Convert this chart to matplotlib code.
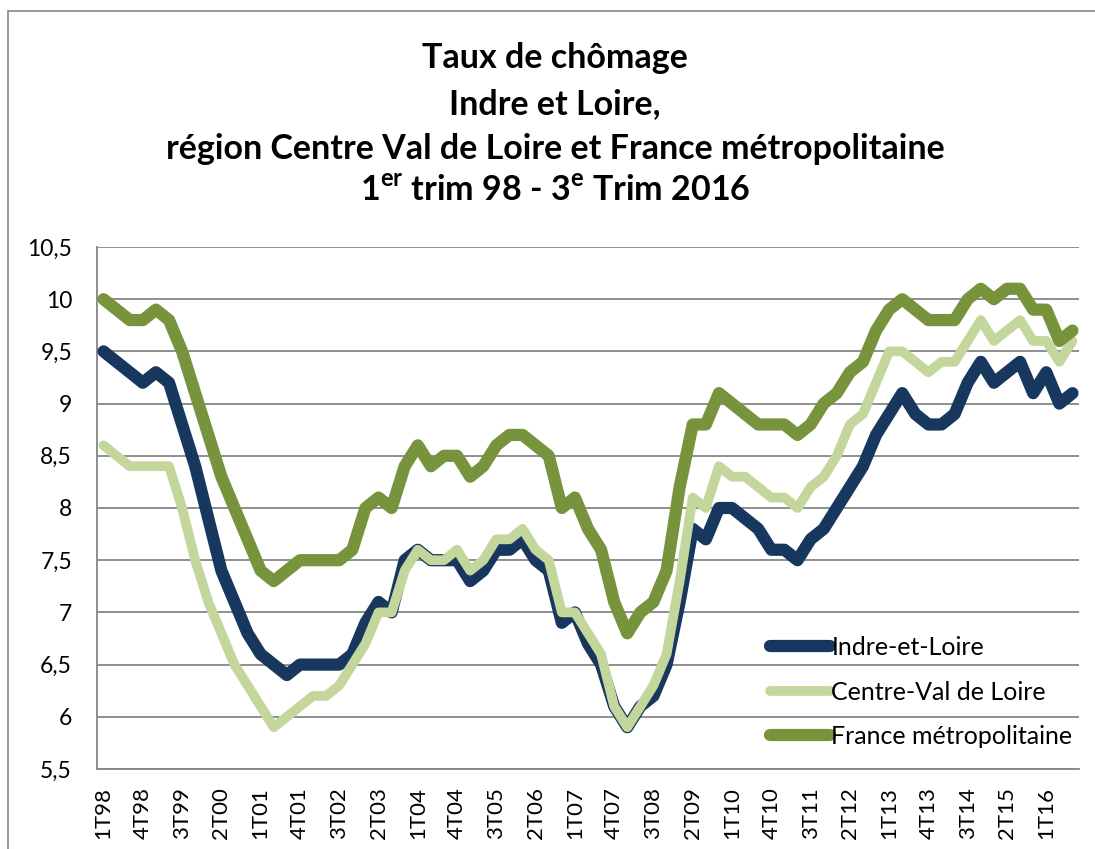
import matplotlib
matplotlib.use("Agg")
import matplotlib.pyplot as plt
from matplotlib.patches import Rectangle

# quarters 1T98 .. 3T16
quarters = ["%dT%02d" % (q, y % 100) for y in range(1998, 2017) for q in range(1, 5)][:75]

indre = [9.5, 9.4, 9.3, 9.2, 9.3, 9.2, 8.8, 8.4, 7.9, 7.4,
         7.1, 6.8, 6.6, 6.5, 6.4, 6.5, 6.5, 6.5, 6.5, 6.6,
         6.9, 7.1, 7.0, 7.5, 7.6, 7.5, 7.5, 7.5, 7.3, 7.4,
         7.6, 7.6, 7.7, 7.5, 7.4, 6.9, 7.0, 6.7, 6.5, 6.1,
         5.9, 6.1, 6.2, 6.5, 7.1, 7.8, 7.7, 8.0, 8.0, 7.9,
         7.8, 7.6, 7.6, 7.5, 7.7, 7.8, 8.0, 8.2, 8.4, 8.7,
         8.9, 9.1, 8.9, 8.8, 8.8, 8.9, 9.2, 9.4, 9.2, 9.3,
         9.4, 9.1, 9.3, 9.0, 9.1]

centre = [8.6, 8.5, 8.4, 8.4, 8.4, 8.4, 8.0, 7.5, 7.1, 6.8,
          6.5, 6.3, 6.1, 5.9, 6.0, 6.1, 6.2, 6.2, 6.3, 6.5,
          6.7, 7.0, 7.0, 7.4, 7.6, 7.5, 7.5, 7.6, 7.4, 7.5,
          7.7, 7.7, 7.8, 7.6, 7.5, 7.0, 7.0, 6.8, 6.6, 6.1,
          5.9, 6.1, 6.3, 6.6, 7.3, 8.1, 8.0, 8.4, 8.3, 8.3,
          8.2, 8.1, 8.1, 8.0, 8.2, 8.3, 8.5, 8.8, 8.9, 9.2,
          9.5, 9.5, 9.4, 9.3, 9.4, 9.4, 9.6, 9.8, 9.6, 9.7,
          9.8, 9.6, 9.6, 9.4, 9.6]

france = [10.0, 9.9, 9.8, 9.8, 9.9, 9.8, 9.5, 9.1, 8.7, 8.3,
          8.0, 7.7, 7.4, 7.3, 7.4, 7.5, 7.5, 7.5, 7.5, 7.6,
          8.0, 8.1, 8.0, 8.4, 8.6, 8.4, 8.5, 8.5, 8.3, 8.4,
          8.6, 8.7, 8.7, 8.6, 8.5, 8.0, 8.1, 7.8, 7.6, 7.1,
          6.8, 7.0, 7.1, 7.4, 8.2, 8.8, 8.8, 9.1, 9.0, 8.9,
          8.8, 8.8, 8.8, 8.7, 8.8, 9.0, 9.1, 9.3, 9.4, 9.7,
          9.9, 10.0, 9.9, 9.8, 9.8, 9.8, 10.0, 10.1, 10.0, 10.1,
          10.1, 9.9, 9.9, 9.6, 9.7]

series_names = ["Indre-et-Loire", "Centre-Val de Loire", "France métropolitaine"]
colors = ["#17375E", "#C3D69B", "#77933C"]

yticks = [5.5, 6, 6.5, 7, 7.5, 8, 8.5, 9, 9.5, 10, 10.5]

plt.rcParams['font.family'] = ['Lato', 'DejaVu Sans']
plt.rcParams['mathtext.fontset'] = 'custom'
plt.rcParams['mathtext.bf'] = 'Lato:bold'
plt.rcParams['mathtext.rm'] = 'Lato'

fig = plt.figure(figsize=(10.95, 8.49), dpi=100)
fig.patches.append(Rectangle((8 / 1095, -0.1), 1.2, 1 - 11 / 849 + 0.1, transform=fig.transFigure,
                             fill=False, edgecolor="#868686", linewidth=1.2))

ax = fig.add_axes([97 / 1095, 1 - 769 / 849, 982 / 1095, 522 / 849])

x = list(range(len(quarters)))
ax.plot(x, indre, color=colors[0], lw=8.8, solid_joinstyle='round', solid_capstyle='round', label=series_names[0], zorder=3)
ax.plot(x, centre, color=colors[1], lw=7.0, solid_joinstyle='round', solid_capstyle='round', label=series_names[1], zorder=4)
ax.plot(x, france, color=colors[2], lw=8.8, solid_joinstyle='round', solid_capstyle='round', label=series_names[2], zorder=5)

ax.set_xlim(-0.5, len(quarters) - 0.5)
ax.set_ylim(5.5, 10.5)
ax.set_yticks(yticks)
ax.set_yticklabels([("%g" % v).replace(".", ",") for v in yticks], fontsize=16.5)
ax.set_xticks(x[::3])
ax.set_xticklabels(quarters[::3], rotation=90, fontsize=16)
ax.tick_params(length=0)
ax.tick_params(axis='y', pad=18)
ax.tick_params(axis='x', pad=13)
ax.grid(axis='y', color="#868686", lw=1.3)
ax.set_axisbelow(True)
for s in ["top", "right"]:
    ax.spines[s].set_visible(False)
for s in ["left", "bottom"]:
    ax.spines[s].set_color("#868686")
    ax.spines[s].set_linewidth(1.3)

leg = ax.legend(loc='upper left', bbox_to_anchor=((770 - 97) / 982, (769 - 636) / 522),
                frameon=False, fontsize=18, handlelength=2.4, handletextpad=0.05,
                labelspacing=0.86, borderpad=0, borderaxespad=0)

title_lines = ["Taux de chômage", "Indre et Loire,",
               "région Centre Val de Loire et France métropolitaine",
               r"1$^{\mathbf{er}}$ trim 98 - 3$^{\mathbf{e}}$ Trim 2016"]
title_y = [68, 114, 159, 201]
for t, yy in zip(title_lines, title_y):
    fig.text(555 / 1095, 1 - yy / 849, t, ha='center', va='baseline', fontsize=24.5, fontweight='bold')

fig.savefig("out.png", dpi=100)
